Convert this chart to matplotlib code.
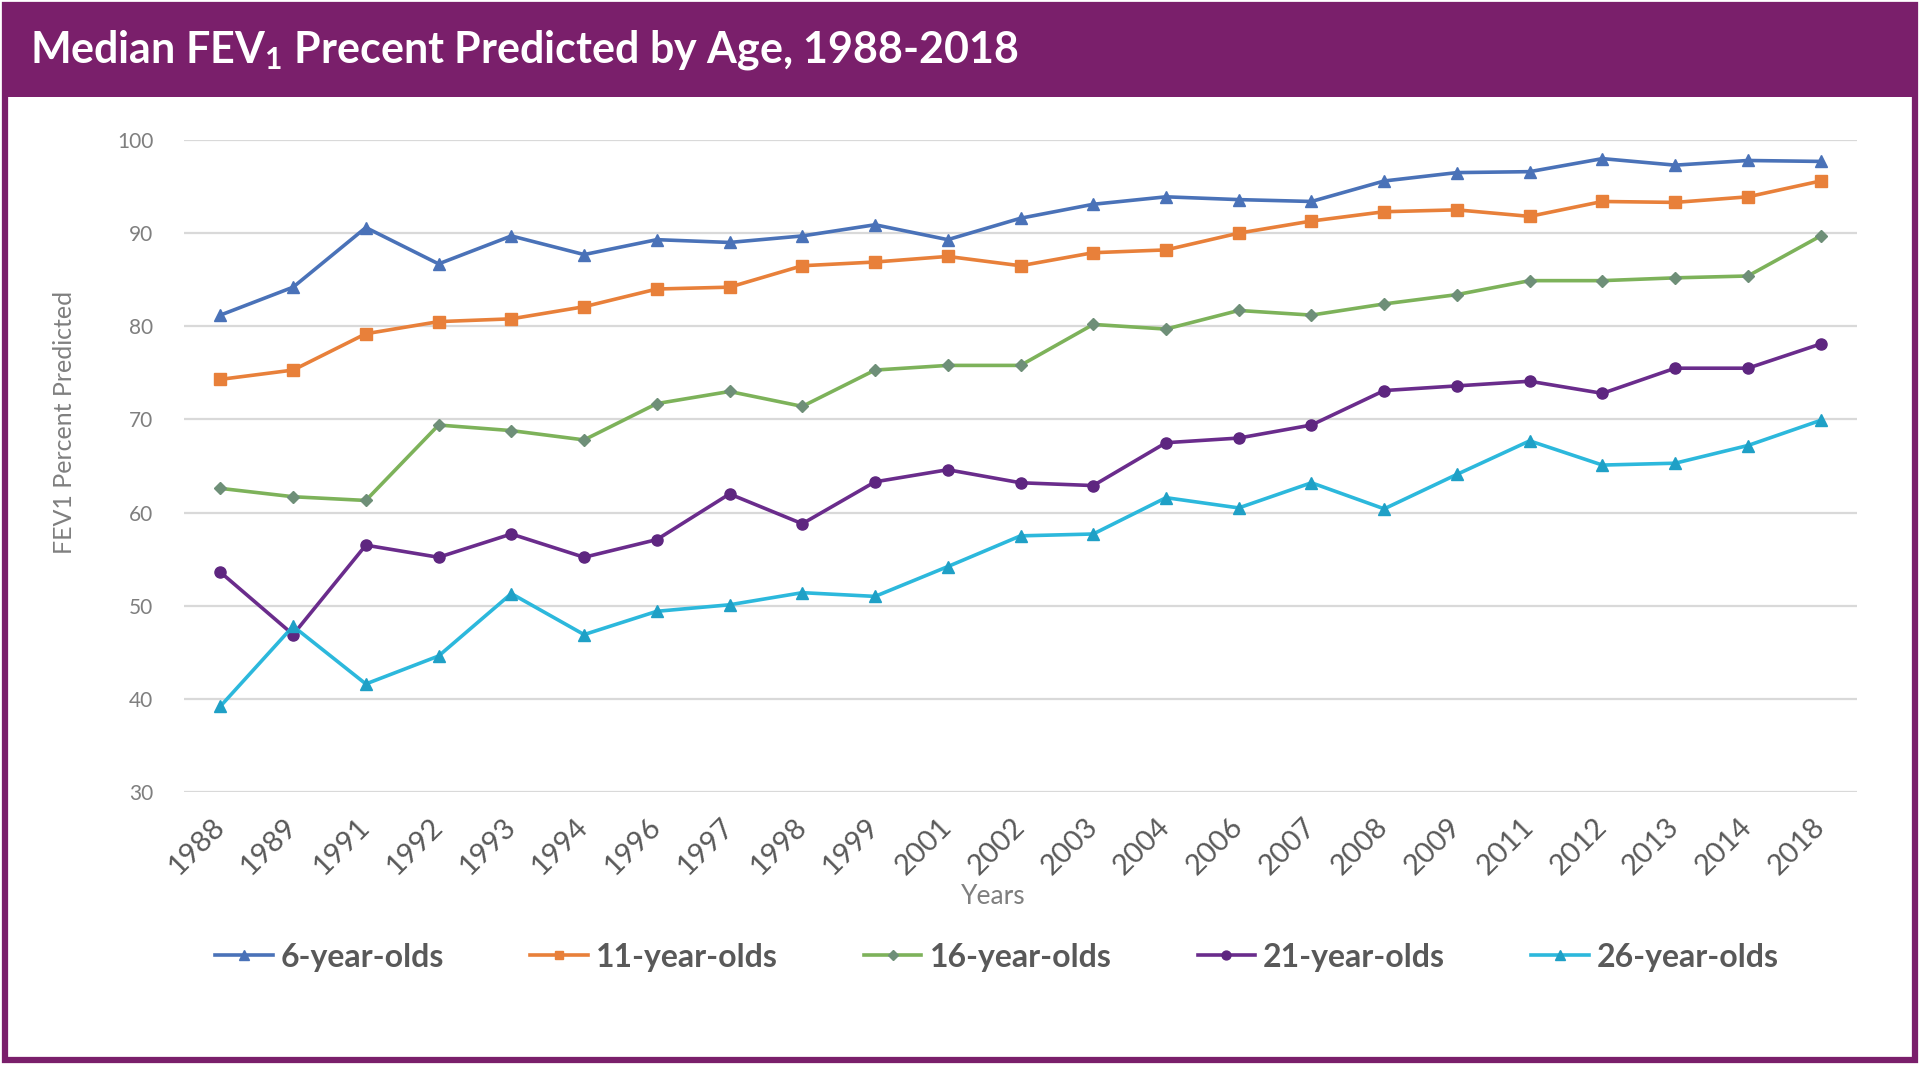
import matplotlib
matplotlib.use("Agg")
import matplotlib.pyplot as plt
from matplotlib.patches import Rectangle

years = ["1988", "1989", "1991", "1992", "1993", "1994", "1996", "1997", "1998", "1999",
         "2001", "2002", "2003", "2004", "2006", "2007", "2008", "2009", "2011", "2012",
         "2013", "2014", "2018"]

age6 = [81.2, 84.2, 90.6, 86.7, 89.7, 87.7, 89.3, 89.0, 89.7, 90.9, 89.3, 91.6, 93.1, 93.9,
        93.6, 93.4, 95.6, 96.5, 96.6, 98.0, 97.3, 97.8, 97.7]
age11 = [74.3, 75.3, 79.2, 80.5, 80.8, 82.1, 84.0, 84.2, 86.5, 86.9, 87.5, 86.5, 87.9, 88.2,
         90.0, 91.3, 92.3, 92.5, 91.8, 93.4, 93.3, 93.9, 95.6]
age16 = [62.6, 61.7, 61.3, 69.4, 68.8, 67.8, 71.7, 73.0, 71.4, 75.3, 75.8, 75.8, 80.2, 79.7,
         81.7, 81.2, 82.4, 83.4, 84.9, 84.9, 85.2, 85.4, 89.7]
age21 = [53.6, 46.9, 56.5, 55.2, 57.7, 55.2, 57.1, 62.0, 58.8, 63.3, 64.6, 63.2, 62.9, 67.5,
         68.0, 69.4, 73.1, 73.6, 74.1, 72.8, 75.5, 75.5, 78.1]
age26 = [39.2, 47.8, 41.6, 44.6, 51.3, 46.9, 49.4, 50.1, 51.4, 51.0, 54.2, 57.5, 57.7, 61.6,
         60.5, 63.2, 60.4, 64.1, 67.7, 65.1, 65.3, 67.2, 69.9]

series_labels = ["6-year-olds", "11-year-olds", "16-year-olds", "21-year-olds", "26-year-olds"]
yticks = [30, 40, 50, 60, 70, 80, 90, 100]

title_txt = r"Median FEV$_\mathregular{1}$ Precent Predicted by Age, 1988-2018"
ylabel_txt = "FEV1 Percent Predicted"
xlabel_txt = "Years"

plt.rcParams["font.family"] = ["Lato", "DejaVu Sans"]
plt.rcParams["mathtext.default"] = "regular"

W, H = 1920, 1065
fig = plt.figure(figsize=(W / 100, H / 100), dpi=100)
fig.patch.set_facecolor("white")

purple = "#7A1F6B"
# frame and banner
fig.patches.append(Rectangle((5 / W, 5 / H), 1910 / W, 1055 / H, transform=fig.transFigure,
                             facecolor="none", edgecolor=purple, linewidth=4.5, zorder=0))
fig.patches.append(Rectangle((4 / W, 1 - 97 / H), 1912 / W, 93 / H, transform=fig.transFigure,
                             facecolor=purple, edgecolor="none", zorder=1))
fig.text(30 / W, 1 - 50 / H, title_txt, color="white", fontsize=31, fontweight="bold",
         ha="left", va="center", family=["Lato", "DejaVu Sans"])

ax = fig.add_axes([184 / W, 1 - 792 / H, (1857 - 184) / W, (792 - 140) / H])
x = list(range(len(years)))

styles = [
    (age6, "#4A72B8", "#4A72B8", "^", 9),
    (age11, "#E8803A", "#E8803A", "s", 8),
    (age16, "#7DB25A", "#6E8F78", "D", 6),
    (age21, "#6A2C8C", "#5E2680", "o", 8),
    (age26, "#2CB8DC", "#1FA0C6", "^", 9),
]
for (vals, lc, mc, mk, ms), lab in zip(styles, series_labels):
    ax.plot(x, vals, color=lc, linewidth=2.6, marker=mk, markersize=ms,
            markerfacecolor=mc, markeredgecolor=mc, label=lab, zorder=3)

ax.set_xlim(-0.5, len(years) - 0.5)
ax.set_ylim(30, 100)
ax.set_yticks(yticks)
ax.set_yticklabels([str(v) for v in yticks])
ax.set_xticks(x)
ax.set_xticklabels(years, rotation=45, ha="right", va="center", rotation_mode="anchor")
ax.grid(axis="y", color="#D9D9D9", linewidth=1.6, zorder=0)
ax.grid(axis="x", visible=False)
for s in ax.spines.values():
    s.set_visible(False)
ax.tick_params(axis="y", length=0, pad=22, labelsize=15, labelcolor="#7F7F7F")
ax.tick_params(axis="x", length=0, pad=22, labelsize=21, labelcolor="#595959")
ax.set_facecolor("white")

fig.text(993 / W, 1 - 897 / H, xlabel_txt, fontsize=19, color="#7F7F7F", ha="center", va="center")
fig.text(65 / W, 1 - 422 / H, ylabel_txt, fontsize=18, color="#7F7F7F", rotation=90,
         ha="center", va="center")

leg = fig.legend(loc="center", bbox_to_anchor=(997 / W, 1 - 957 / H), ncol=5, frameon=False,
                 prop={"family": "Lato", "weight": "bold", "size": 23},
                 handlelength=1.8, handletextpad=0.25, columnspacing=2.7, markerscale=0.8)
for t in leg.get_texts():
    t.set_color("#595959")

fig.savefig("out.png", dpi=100, facecolor="white")
